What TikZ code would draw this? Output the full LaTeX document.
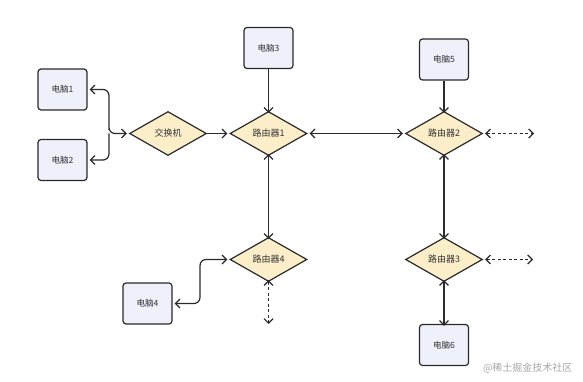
\documentclass[tikz,border=0pt]{standalone}
\usepackage{fontspec}
\newfontfamily\cjk{Noto Sans CJK SC}
\usetikzlibrary{shapes.geometric,arrows.meta}
\definecolor{boxfill}{HTML}{EEF1FA}
\definecolor{dmfill}{HTML}{FBEEC8}
\definecolor{edge}{HTML}{2A2A2A}
\begin{document}
\begin{tikzpicture}[x=1pt,y=-1pt,
  pc/.style={draw=edge,line width=1.2pt,fill=boxfill,rounded corners=3pt,minimum width=49pt,minimum height=41pt,inner sep=0pt,font=\cjk\fontsize{8.6}{10}\selectfont,text=black!80},
  rt/.style={draw=edge,line width=1.2pt,fill=dmfill,diamond,aspect=1.75,minimum width=77pt,minimum height=44pt,inner sep=0pt,font=\cjk\fontsize{9}{10}\selectfont,text=black!80},
  con/.style={draw=edge,line width=1.2pt,-{Straight Barb[length=4.5pt,width=9pt]}},
  bi/.style={draw=edge,line width=1.2pt,{Straight Barb[length=4.5pt,width=9pt]}-{Straight Barb[length=4.5pt,width=9pt]}},
  dbi/.style={bi,dash pattern=on 3pt off 2.5pt}]
\useasboundingbox (0,0) rectangle (583,382);
\node[pc] (p1) at (62.5,89.5) {电脑1};
\node[pc] (p2) at (62.5,160) {电脑2};
\node[pc] (p3) at (268.5,48) {电脑3};
\node[pc] (p4) at (147.5,303.5) {电脑4};
\node[pc] (p5) at (444,59.5) {电脑5};
\node[pc] (p6) at (444,345) {电脑6};
\node[rt] (sw) at (168,133.5) {交换机};
\node[rt] (r1) at (268.5,133.5) {路由器1};
\node[rt] (r2) at (444,133.5) {路由器2};
\node[rt] (r3) at (444,259.5) {路由器3};
\node[rt] (r4) at (268.5,259.5) {路由器4};
\coordinate (r2e) at (534,133.5);
\coordinate (r3e) at (533,259.5);
\coordinate (r4e) at (268.5,324);
\draw[bi,rounded corners=6pt] ([xshift=-2pt]sw.west) -| (109,133.5) |- ([xshift=2pt]p1.east);
\draw[con,rounded corners=6pt] (109,133.5) |- ([xshift=2pt]p2.east);
\draw[con] (sw.east) -- ([xshift=-2pt]r1.west);
\draw[con] (p3.south) -- ([yshift=-2pt]r1.north);
\draw[con] (p5.south) -- ([yshift=-2pt]r2.north);
\draw[bi] ([xshift=2pt]r1.east) -- ([xshift=-2pt]r2.west);
\draw[bi] ([yshift=2pt]r1.south) -- ([yshift=-2pt]r4.north);
\draw[bi] ([yshift=2pt]r2.south) -- ([yshift=-2pt]r3.north);
\draw[bi] ([yshift=2pt]r3.south) -- ([yshift=-2pt]p6.north);
\draw[bi,rounded corners=6pt] ([xshift=2pt]p4.east) -| (200,259.5) -- ([xshift=-2pt]r4.west);
\draw[dbi] ([xshift=2pt]r2.east) -- (r2e);
\draw[dbi] ([xshift=2pt]r3.east) -- (r3e);
\draw[dbi] ([yshift=2pt]r4.south) -- (r4e);
\node[font=\cjk\fontsize{10}{12}\selectfont,text=black!35,anchor=east] (wm) at (576,368) {@稀土掘金技术社区};
\end{tikzpicture}
\end{document}
